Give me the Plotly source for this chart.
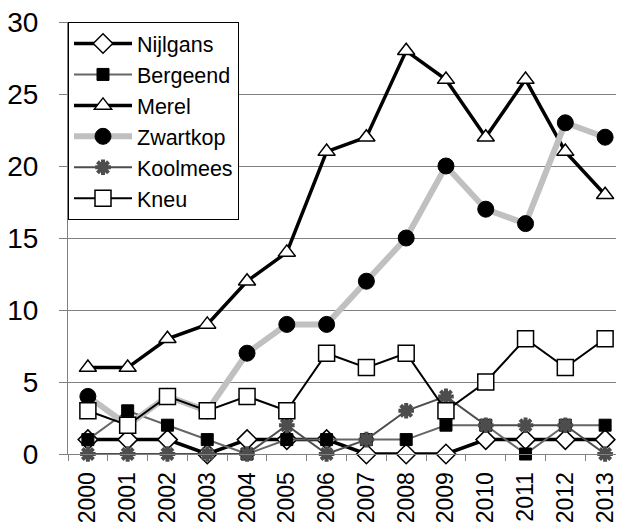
import plotly.graph_objects as go

years = [str(y) for y in range(2000, 2014)]
nijlgans = [1, 1, 1, 0, 1, 1, 1, 0, 0, 0, 1, 1, 1, 1]
bergeend = [1, 3, 2, 1, 0, 1, 1, 1, 1, 2, 2, 0, 2, 2]
merel = [6, 6, 8, 9, 12, 14, 21, 22, 28, 26, 22, 26, 21, 18]
zwartkop = [4, 2, 4, 3, 7, 9, 9, 12, 15, 20, 17, 16, 23, 22]
koolmees = [0, 0, 0, 0, 0, 2, 0, 1, 3, 4, 2, 2, 2, 0]
kneu = [3, 2, 4, 3, 4, 3, 7, 6, 7, 3, 5, 8, 6, 8]
y_ticks = [0, 5, 10, 15, 20, 25, 30]

fig = go.Figure()
common = dict(mode="lines+markers", cliponaxis=False)
fig.add_trace(go.Scatter(x=years, y=nijlgans, name="Nijlgans", **common,
                         line=dict(color="black", width=3.5),
                         marker=dict(symbol="diamond", size=15, color="white",
                                     line=dict(color="black", width=1.5))))
fig.add_trace(go.Scatter(x=years, y=bergeend, name="Bergeend", **common,
                         line=dict(color="#666666", width=2),
                         marker=dict(symbol="square", size=12, color="black",
                                     line=dict(color="black", width=1))))
fig.add_trace(go.Scatter(x=years, y=merel, name="Merel", **common,
                         line=dict(color="black", width=3.5),
                         marker=dict(symbol="triangle-up", size=15, color="white",
                                     line=dict(color="black", width=1.5))))
fig.add_trace(go.Scatter(x=years, y=zwartkop, name="Zwartkop", **common,
                         line=dict(color="#c0c0c0", width=6),
                         marker=dict(symbol="circle", size=16, color="black",
                                     line=dict(color="black", width=1))))
fig.add_trace(go.Scatter(x=years, y=koolmees, name="Koolmees", **common,
                         line=dict(color="#4d4d4d", width=2),
                         marker=dict(symbol="asterisk-open", size=13,
                                     line=dict(color="#3a3a3a", width=4))))
fig.add_trace(go.Scatter(x=years, y=kneu, name="Kneu", **common,
                         line=dict(color="black", width=2),
                         marker=dict(symbol="square", size=16, color="white",
                                     line=dict(color="black", width=1.5))))

fig.update_layout(
    width=624, height=527,
    margin=dict(l=60, r=7, t=14, b=81),
    paper_bgcolor="white", plot_bgcolor="white",
    font=dict(family="Liberation Sans, Arial, sans-serif", color="black"),
    showlegend=True,
    legend=dict(x=0, y=1, xanchor="left", yanchor="top",
                bgcolor="white", bordercolor="black", borderwidth=1,
                font=dict(size=21.5), tracegroupgap=0, itemwidth=58),
    xaxis=dict(type="category", range=[-0.5, 13.5], tickangle=-90, automargin=False,
               tickfont=dict(size=23), showline=True, linecolor="#808080", linewidth=1,
               ticks="outside", ticklen=6, tickcolor="#808080", tickson="boundaries",
               ticklabelstandoff=8,
               showgrid=False, zeroline=False),
    yaxis=dict(range=[0, 30], tickvals=y_ticks, tickfont=dict(size=28), automargin=False,
               showline=True, linecolor="#808080", linewidth=1, ticklabeloverflow="allow",
               ticks="outside", ticklen=8, tickcolor="#808080", ticklabelstandoff=15,
               showgrid=True, gridcolor="#808080", gridwidth=1, zeroline=False),
)

fig.write_html("out.html")
